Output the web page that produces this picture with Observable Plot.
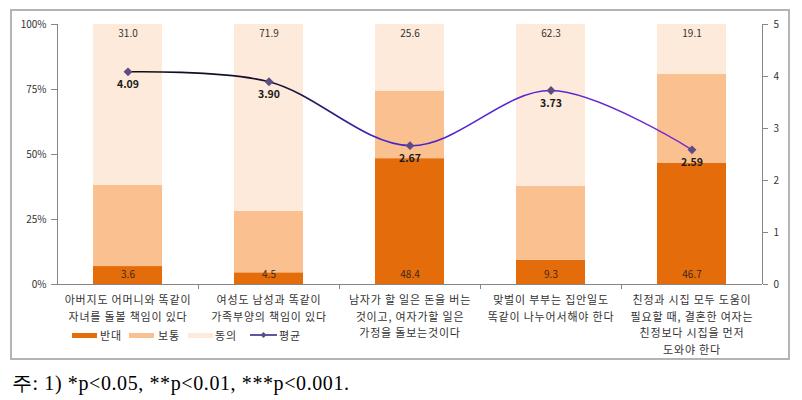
<!DOCTYPE html>
<html><head><meta charset="utf-8">
<script src="https://cdn.jsdelivr.net/npm/d3@7"></script>
<script src="https://cdn.jsdelivr.net/npm/@observablehq/plot@0.6"></script>
<style>
body{margin:0;background:#fff;width:802px;height:400px;position:relative;overflow:hidden;font-family:"Noto Sans CJK KR","Noto Sans",sans-serif;}
#frame{position:absolute;left:10px;top:9px;width:780px;height:351px;box-sizing:border-box;border:2px solid #b4b4b4;}
#chart{position:absolute;left:0;top:0;}
.sw{position:absolute;}
.lt{position:absolute;font-size:11px;color:#333;line-height:14px;top:328px;letter-spacing:0.8px;}
#note{position:absolute;left:12px;top:373px;font-family:"Liberation Serif",serif;font-size:20px;line-height:20px;color:#000;white-space:pre;letter-spacing:0.6px;}
</style>
</head><body>
<div id="frame"></div>
<div id="chart"></div>
<div id="legend"></div>
<div id="note">주: 1) *p&lt;0.05, **p&lt;0.01, ***p&lt;0.001.</div>
<script>
const categories = [
  "아버지도 어머니와 똑같이\n자녀를 돌볼 책임이 있다",
  "여성도 남성과 똑같이\n가족부양의 책임이 있다",
  "남자가 할 일은 돈을 버는\n것이고, 여자가할 일은\n가정을 돌보는것이다",
  "맞벌이 부부는 집안일도\n똑같이 나누어서해야 한다",
  "친정과 시집 모두 도움이\n필요할 때, 결혼한 여자는\n친정보다 시집을 먼저\n도와야 한다"
];
const seriesNames = ["반대", "보통", "동의"];
const seriesColors = ["#E46C0A", "#FAC090", "#FDEADA"];
const oppose = [6.9, 4.5, 48.4, 9.3, 46.7];
const neutral = [31.2, 23.6, 26.0, 28.4, 34.2];
const agree = [61.9, 71.9, 25.6, 62.3, 19.1];
const opposeLabels = ["3.6", "4.5", "48.4", "9.3", "46.7"];
const agreeLabels = ["31.0", "71.9", "25.6", "62.3", "19.1"];
const average = [4.09, 3.90, 2.67, 3.73, 2.59];
const leftTicks = [0, 25, 50, 75, 100];
const rightTicks = [0, 1, 2, 3, 4, 5];

const rows = categories.flatMap((c, i) => [
  {cat: c, series: seriesNames[0], value: oppose[i]},
  {cat: c, series: seriesNames[1], value: neutral[i]},
  {cat: c, series: seriesNames[2], value: agree[i]}
]);
const avgRows = average.map((v, i) => ({cat: categories[i], v}));

function gradientDefs() {
  const defs = d3.create("svg:defs");
  const lg = defs.append("linearGradient").attr("id", "avgGrad")
    .attr("x1", "0").attr("x2", "1").attr("y1", "0").attr("y2", "0");
  [[0, "#0e0e0e"], [0.28, "#1a1238"], [0.45, "#4a24c4"], [0.75, "#5a22d8"], [1, "#7a30c8"]]
    .forEach(([o, c]) => lg.append("stop").attr("offset", o).attr("stop-color", c));
  return defs.node();
}

function axisLines(index, scales, values, dimensions) {
  const {width, height, marginLeft, marginRight, marginTop, marginBottom} = dimensions;
  const x0 = marginLeft, x1 = width - marginRight, y0 = height - marginBottom, yt = marginTop;
  const g = d3.create("svg:g").attr("stroke", "#868686").attr("fill", "none").attr("shape-rendering", "crispEdges");
  g.append("line").attr("x1", x0).attr("x2", x0).attr("y1", yt).attr("y2", y0);
  g.append("line").attr("x1", x1).attr("x2", x1).attr("y1", yt).attr("y2", y0);
  g.append("line").attr("x1", x0).attr("x2", x1).attr("y1", y0).attr("y2", y0);
  const step = (x1 - x0) / categories.length;
  for (let k = 1; k < categories.length; k++) {
    g.append("line").attr("x1", x0 + k * step).attr("x2", x0 + k * step).attr("y1", y0).attr("y2", y0 + 5);
  }
  return g.node();
}

const chart = Plot.plot({
  width: 802,
  height: 360,
  marginLeft: 57,
  marginRight: 40,
  marginTop: 24,
  marginBottom: 76,
  style: {fontFamily: '"Noto Sans CJK KR", sans-serif', fontSize: "10px", color: "#333", background: "transparent"},
  x: {domain: categories, paddingInner: 0.51, paddingOuter: 0.255, axis: null},
  y: {domain: [0, 100]},
  color: {domain: seriesNames, range: seriesColors},
  marks: [
    gradientDefs,
    Plot.barY(rows, {x: "cat", y: "value", fill: "series"}),
    axisLines,
    Plot.axisY({anchor: "left", ticks: leftTicks, tickFormat: d => d + "%", tickSize: 6, tickPadding: 5, stroke: "#868686", fill: "#333", label: null}),
    Plot.axisY({anchor: "right", ticks: rightTicks.map(t => t * 20), tickFormat: d => String(d / 20), tickSize: 5, tickPadding: 6, stroke: "#868686", fill: "#333", label: null}),
    Plot.text(opposeLabels, {x: (d, i) => categories[i], y: () => 0, text: d => d, dy: -10, fontSize: 10, fill: "#3a2a1a"}),
    Plot.text(agreeLabels, {x: (d, i) => categories[i], y: () => 100, text: d => d, dy: 9, fontSize: 10, fill: "#333"}),
    Plot.line(avgRows, {x: "cat", y: d => d.v * 20, curve: "catmull-rom", stroke: "url(#avgGrad)", strokeWidth: 1.6}),
    Plot.dot(avgRows, {x: "cat", y: d => d.v * 20, symbol: "diamond2", r: 4, fill: "#5e4d82", stroke: "none"}),
    Plot.text(avgRows, {x: "cat", y: d => d.v * 20, text: d => d.v.toFixed(2), dy: 13, fontSize: 10.5, fontWeight: "bold", fill: "#1a1a1a"}),
    Plot.text(categories, {x: d => d, frameAnchor: "bottom", lineAnchor: "top", dy: 8, fontSize: 11, lineHeight: 1.5, fill: "#333", text: d => d})
  ]
});
const textGroups = chart.querySelectorAll('g[aria-label="text"]');
if (textGroups.length) textGroups[textGroups.length - 1].setAttribute("letter-spacing", "0.8");
document.getElementById("chart").appendChild(chart);

// legend
const legend = document.getElementById("legend");
const swX = [72, 129, 188, 250];
const txX = [100, 158, 215, 279];
seriesNames.forEach((name, i) => {
  const s = document.createElement("div");
  s.className = "sw";
  s.style.cssText = `left:${swX[i]}px;top:333px;width:25px;height:5px;background:${seriesColors[i]};`;
  legend.appendChild(s);
  const t = document.createElement("div");
  t.className = "lt";
  t.style.left = txX[i] + "px";
  t.textContent = name;
  legend.appendChild(t);
});
const ls = document.createElementNS("http://www.w3.org/2000/svg", "svg");
ls.setAttribute("width", 27); ls.setAttribute("height", 10);
ls.style.cssText = `position:absolute;left:${swX[3]}px;top:330px;`;
ls.innerHTML = '<line x1="0" x2="27" y1="5" y2="5" stroke="#3b2a8a" stroke-width="1.6"/><path d="M13.5,2 L16.5,5 L13.5,8 L10.5,5Z" fill="#5e4d82"/>';
legend.appendChild(ls);
const lt = document.createElement("div");
lt.className = "lt"; lt.style.left = txX[3] + "px"; lt.textContent = "평균";
legend.appendChild(lt);
</script>
</body></html>
